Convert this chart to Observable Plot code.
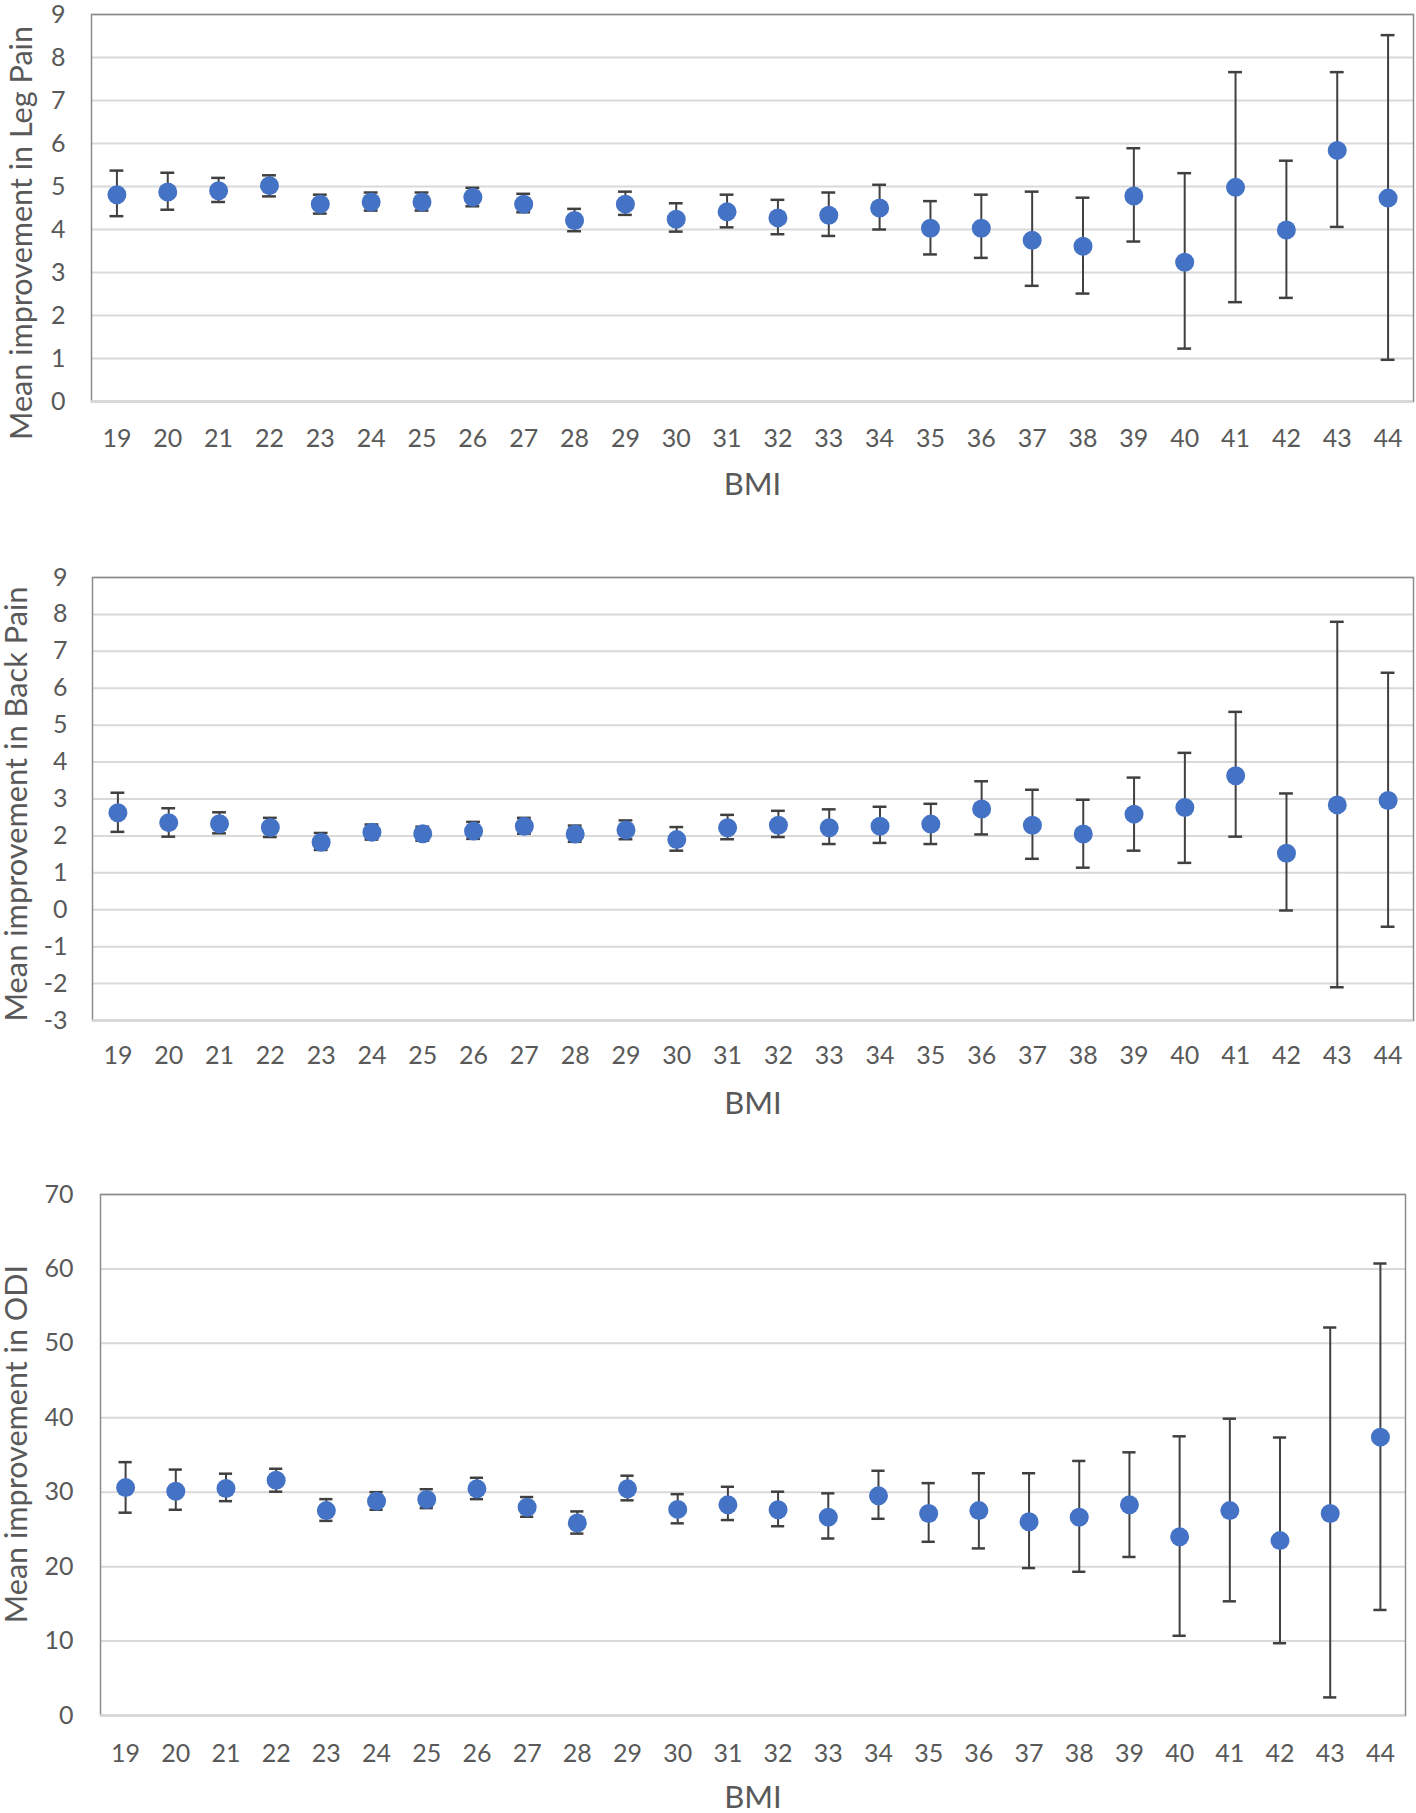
<!DOCTYPE html>
<html>
<head>
<meta charset="utf-8">
<script src="https://cdn.jsdelivr.net/npm/d3@7"></script>
<script src="https://cdn.jsdelivr.net/npm/@observablehq/plot@0.6"></script>
<style>
  html, body { margin: 0; padding: 0; background: #fff; }
  #root > div, #root > svg { display: block; }
</style>
</head>
<body>
<div id="root"></div>
<script>
const bmi = [19,20,21,22,23,24,25,26,27,28,29,30,31,32,33,34,35,36,37,38,39,40,41,42,43,44];

const legMean = [4.81,4.87,4.90,5.02,4.59,4.64,4.64,4.75,4.59,4.21,4.59,4.24,4.41,4.27,4.33,4.50,4.03,4.03,3.75,3.61,4.78,3.24,4.98,3.99,5.84,4.73];
const legLo   = [4.31,4.46,4.64,4.77,4.37,4.44,4.44,4.54,4.40,3.96,4.34,3.95,4.05,3.89,3.85,4.00,3.42,3.34,2.69,2.51,3.72,1.23,2.31,2.41,4.06,0.97];
const legHi   = [5.37,5.32,5.20,5.26,4.81,4.86,4.86,4.97,4.83,4.48,4.88,4.61,4.81,4.69,4.86,5.04,4.66,4.81,4.88,4.74,5.89,5.31,7.66,5.60,7.66,8.52];

const backMean = [2.63,2.36,2.33,2.23,1.83,2.10,2.06,2.13,2.26,2.05,2.16,1.90,2.22,2.29,2.22,2.26,2.32,2.73,2.29,2.05,2.59,2.77,3.63,1.53,2.84,2.96];
const backLo   = [2.11,1.98,2.07,1.97,1.62,1.90,1.87,1.92,2.06,1.84,1.91,1.60,1.91,1.97,1.78,1.81,1.78,2.04,1.38,1.14,1.60,1.27,1.98,-0.02,-2.10,-0.46];
const backHi   = [3.17,2.75,2.64,2.49,2.08,2.31,2.25,2.38,2.49,2.28,2.42,2.24,2.57,2.68,2.72,2.79,2.87,3.48,3.25,2.98,3.58,4.25,5.36,3.15,7.80,6.42];

const odiMean = [30.62,30.12,30.51,31.61,27.53,28.80,29.02,30.45,27.97,25.87,30.45,27.69,28.30,27.64,26.65,29.51,27.14,27.53,26.04,26.65,28.30,24.00,27.53,23.50,27.14,37.40];
const odiLo   = [27.25,27.64,28.80,30.07,26.15,27.64,27.86,29.07,26.70,24.44,28.91,25.82,26.26,25.43,23.78,26.43,23.34,22.45,19.81,19.31,21.30,10.71,15.34,9.71,2.43,14.18];
const odiHi   = [34.04,33.04,32.49,33.15,29.07,30.01,30.40,31.94,29.35,27.42,32.22,29.74,30.73,30.07,29.85,32.88,31.22,32.55,32.55,34.20,35.36,37.51,39.88,37.35,52.13,60.73];

const legTicks  = [0,1,2,3,4,5,6,7,8,9];
const backTicks = [-3,-2,-1,0,1,2,3,4,5,6,7,8,9];
const odiTicks  = [0,10,20,30,40,50,60,70];

const legLabel  = "Mean improvement in Leg Pain";
const backLabel = "Mean improvement in Back Pain";
const odiLabel  = "Mean improvement in ODI";
const xLabel    = "BMI";

const FONT = "Lato, 'Open Sans', sans-serif";
const TEXT = "#595959";
const BLUE = "#4472C4";
const BAR  = "#404040";

function panel(o) {
  const data = bmi.map((b, i) => ({bmi: b, mean: o.mean[i], lo: o.lo[i], hi: o.hi[i]}));
  return Plot.plot({
    width: 1416,
    height: o.height,
    marginTop: o.mt, marginBottom: o.mb, marginLeft: o.ml, marginRight: o.mr,
    style: {fontFamily: FONT, background: "white", overflow: "visible"},
    x: {type: "band", domain: bmi, padding: 0, round: false},
    y: {domain: o.yDomain},
    marks: [
      Plot.gridY(o.ticks, {stroke: "#d9d9d9", strokeOpacity: 1, strokeWidth: 2}),
      Plot.frame({stroke: "#8c8c8c", strokeWidth: 1.5}),
      Plot.ruleY([o.yDomain[0]], {stroke: "#d9d9d9", strokeWidth: 2.5}),
      Plot.axisY(o.ticks, {tickSize: 0, tickPadding: o.yPad, fontSize: 25, color: TEXT, label: null,
        tickFormat: d => d < 0 ? "-" + Math.abs(d) : String(d)}),
      Plot.axisX({tickSize: 0, tickPadding: o.xPad, fontSize: 25, color: TEXT, label: null}),
      Plot.ruleX(data, {x: "bmi", y1: "lo", y2: "hi", stroke: BAR, strokeWidth: 2}),
      Plot.tickY(data, {x: "bmi", y: "lo", stroke: BAR, strokeWidth: 2.5, inset: 18.5}),
      Plot.tickY(data, {x: "bmi", y: "hi", stroke: BAR, strokeWidth: 2.5, inset: 18.5}),
      Plot.dot(data, {x: "bmi", y: "mean", r: 9.5, fill: BLUE, stroke: "none"}),
      Plot.text([xLabel], {text: d => d, frameAnchor: "bottom", lineAnchor: "middle", dy: o.xLabelDy,
        fontSize: 31, fill: TEXT}),
      Plot.text([o.label], {text: d => d, frameAnchor: "left", textAnchor: "middle", lineAnchor: "middle",
        rotate: -90, dx: o.labelDx, dy: o.labelDy, fontSize: o.labelSize, fill: TEXT})
    ]
  });
}

const root = document.getElementById("root");
root.append(panel({mean: legMean, lo: legLo, hi: legHi, yDomain: [0, 9], ticks: legTicks, label: legLabel,
  height: 540, mt: 14, mb: 139, ml: 91, mr: 3, xPad: 28, yPad: 26, xLabelDy: 84,
  labelDx: -69, labelDy: 25, labelSize: 30.6}));
root.append(panel({mean: backMean, lo: backLo, hi: backHi, yDomain: [-3, 9], ticks: backTicks, label: backLabel,
  height: 620, mt: 37, mb: 140, ml: 92, mr: 3, xPad: 26, yPad: 25, xLabelDy: 84,
  labelDx: -75, labelDy: 5, labelSize: 30.8}));
root.append(panel({mean: odiMean, lo: odiLo, hi: odiHi, yDomain: [0, 70], ticks: odiTicks, label: odiLabel,
  height: 653, mt: 34, mb: 98, ml: 100, mr: 11, xPad: 29, yPad: 27, xLabelDy: 83,
  labelDx: -83, labelDy: -11, labelSize: 30.6}));
</script>
</body>
</html>
